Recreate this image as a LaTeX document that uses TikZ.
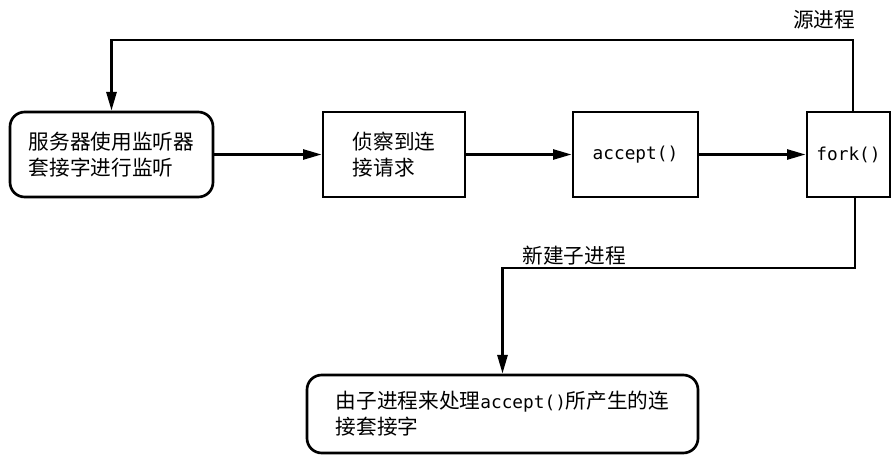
\documentclass[tikz,border=0pt]{standalone}
\usepackage{fontspec}
\setmainfont{Noto Sans CJK SC}
\newfontfamily\monofont{DejaVu Sans Mono}[Scale=0.86]
\usetikzlibrary{arrows.meta}
\begin{document}
\begin{tikzpicture}[x=0.75pt,y=-0.75pt,
  box/.style={draw, line width=2pt, inner sep=0pt, align=left,
    font=\fontsize{15.5pt}{19.5pt}\selectfont},
  rbox/.style={box, rounded corners=11pt},
  conn/.style={line width=2pt},
  arr/.style={conn, -{Triangle[length=14pt,width=7.5pt]}},
  lbl/.style={inner sep=0pt, font=\fontsize{15.5pt}{19.5pt}\selectfont}]
\useasboundingbox (0,0) rectangle (894,456);
\node[rbox, minimum width=152.25pt, minimum height=63.75pt] (b1) at (111.5,154.5)
  {服务器使用监听器\\套接字进行监听};
\node[box, minimum width=106.5pt, minimum height=63.75pt] (b2) at (394,154.5)
  {侦察到连\\接请求};
\node[box, minimum width=93.75pt, minimum height=63.75pt] (b3) at (635.5,154.5)
  {\monofont accept()};
\node[box, minimum width=62.25pt, minimum height=63.75pt] (b4) at (848.5,154.5)
  {\monofont fork()};
\node[rbox, minimum width=293.25pt, minimum height=58.5pt] (b5) at (502.5,414)
  {由子进程来处理{\monofont accept()}所产生的连\\接套接字};
\coordinate (t1) at (853,40);
\coordinate (t2) at (855,268);
\node[lbl] (l1) at (824,20) {源进程};
\node[lbl] (l2) at (574,256) {新建子进程};
\draw[arr] (b1) -- (b2);
\draw[arr] (b2) -- (b3);
\draw[arr] (b3) -- (b4);
\draw[arr] (b4.north -| t1) -- (t1) -| (b1.north);
\draw[arr] (b4.south -| t2) -- (t2) -| (b5.north);
\end{tikzpicture}
\end{document}
